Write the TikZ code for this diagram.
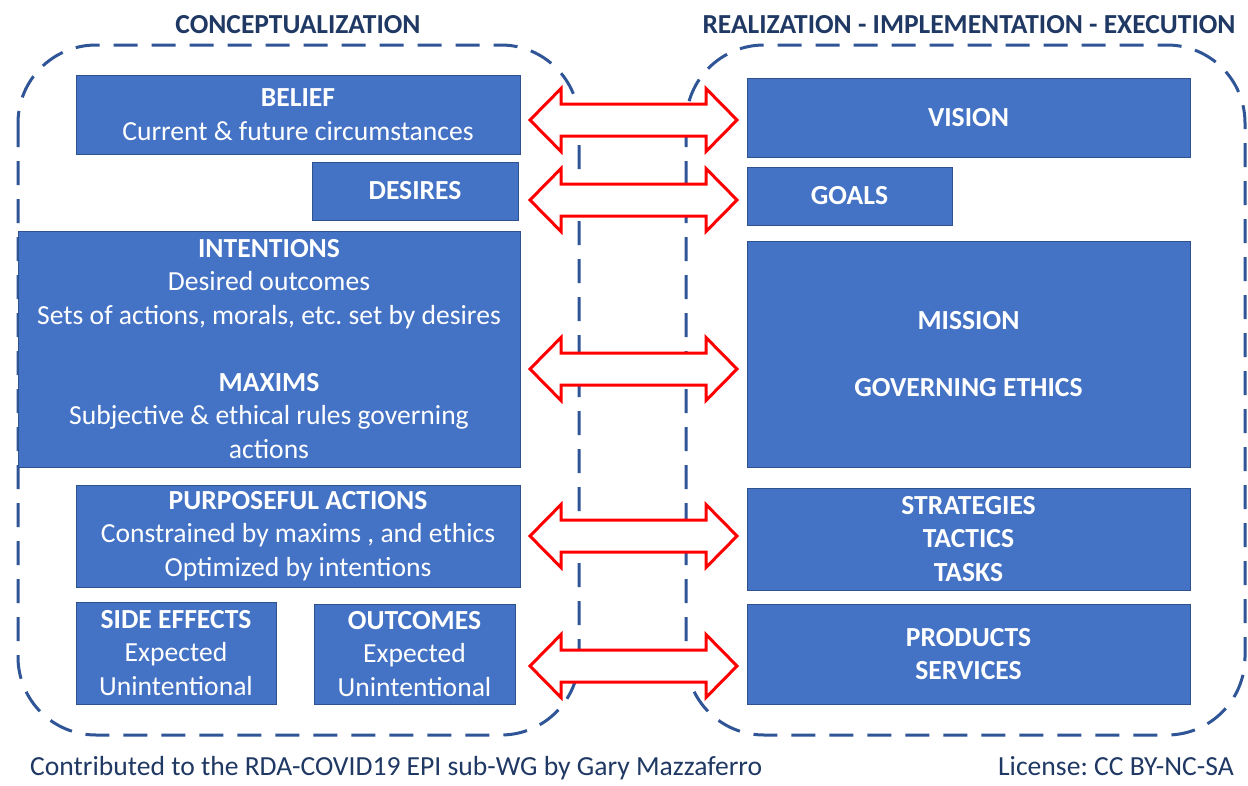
\documentclass[tikz,border=0pt]{standalone}
\usepackage{fontspec}
\setmainfont{Carlito}
\frenchspacing
\definecolor{boxblue}{HTML}{4472C4}
\definecolor{boxedge}{HTML}{2F528F}
\definecolor{dashblue}{HTML}{2F5597}
\definecolor{navy}{HTML}{1F3864}
\tikzset{
  box/.style={fill=boxblue, draw=boxedge, line width=0.8pt, text=white, align=center, inner sep=0pt,
              font=\fontsize{27.6}{33.5}\selectfont},
  region/.style={draw=dashblue, line width=3pt, dash pattern=on 24pt off 14pt, rounded corners=78pt},
  bigarrow/.style={draw=red, fill=white, line width=3pt, line join=miter},
  heading/.style={text=navy, font=\fontsize{27.5}{30}\selectfont\bfseries, inner sep=0pt, anchor=base},
  footer/.style={text=navy, font=\fontsize{27.6}{30}\selectfont, inner sep=0pt}
}
\newcommand\dblarr[1]{%
  \draw[bigarrow] (530,#1) -- (561,#1-31.5) -- (561,#1-16) -- (706,#1-16) -- (706,#1-31.5) -- (737,#1)
     -- (706,#1+31.5) -- (706,#1+16) -- (561,#1+16) -- (561,#1+31.5) -- cycle;}
\begin{document}
\begin{tikzpicture}[x=1pt,y=-1pt]
\useasboundingbox[fill=white] (0,0) rectangle (1248,785);
% headings
\node[heading] (tleft) at (298,33) {CONCEPTUALIZATION};
\node[heading] (tright) at (969,33) {REALIZATION - IMPLEMENTATION - EXECUTION};
% dashed regions
\draw[region] (18,45) rectangle (579,735);
\draw[region] (686,45) rectangle (1245,735);
% left boxes
\node[box, minimum width=444, minimum height=79] (belief) at (298,114.5)
  {\textbf{BELIEF}\\Current \& future circumstances};
\node[box, minimum width=206, minimum height=58] (desires) at (415,191)
  {\textbf{DESIRES}};
\node[box, minimum width=502, minimum height=236] (intent) at (269,349)
  {\textbf{INTENTIONS}\\Desired outcomes\\Sets of actions, morals, etc. set by desires\\[33.5pt]
   \textbf{MAXIMS}\\Subjective \& ethical rules governing\\actions};
\node[box, minimum width=444, minimum height=102] (purpose) at (298,536)
  {\textbf{PURPOSEFUL ACTIONS}\\Constrained by maxims , and ethics\\Optimized by intentions};
\node[box, minimum width=200, minimum height=102] (side) at (176,653)
  {\textbf{SIDE EFFECTS}\\Expected\\Unintentional};
\node[box, minimum width=201, minimum height=100] (outcomes) at (414.5,654)
  {\textbf{OUTCOMES}\\Expected\\Unintentional};
% right boxes
\node[box, minimum width=443, minimum height=79] (vision) at (968.5,117.5)
  {\textbf{VISION}};
\node[box, minimum width=205, minimum height=58] (goals) at (849.5,196)
  {\textbf{GOALS}};
\node[box, minimum width=443, minimum height=226] (mission) at (968.5,354)
  {\textbf{MISSION}\\[33.5pt]\textbf{GOVERNING ETHICS}};
\node[box, minimum width=443, minimum height=102] (strat) at (968.5,539)
  {\textbf{STRATEGIES}\\\textbf{TACTICS}\\\textbf{TASKS}};
\node[box, minimum width=443, minimum height=100] (products) at (968.5,654)
  {\textbf{PRODUCTS}\\\textbf{SERVICES}};
% double arrows
\dblarr{120}
\dblarr{200}
\dblarr{369}
\dblarr{536}
\dblarr{666}
% footer
\node[footer, anchor=base west] (credit) at (30,775) {Contributed to the RDA-COVID19 EPI sub-WG by Gary Mazzaferro};
\node[footer, anchor=base east] (license) at (1234,775) {License: CC BY-NC-SA};
\end{tikzpicture}
\end{document}
